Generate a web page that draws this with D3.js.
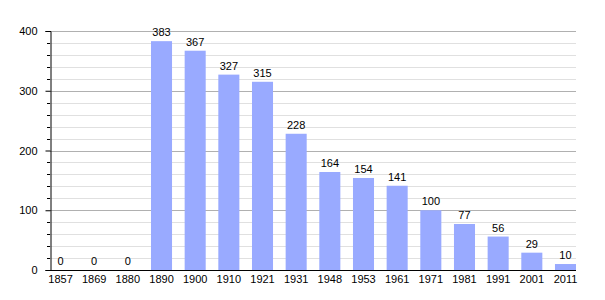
<!DOCTYPE html>
<html>
<head>
<meta charset="utf-8">
<script src="https://cdn.jsdelivr.net/npm/d3@7"></script>
<style>
  body { margin: 0; background: #fff; }
  text { font-family: "Liberation Sans", Arial, sans-serif; font-size: 11px; fill: #000; }
</style>
</head>
<body>
<svg id="chart"></svg>
<script>
const years = ["1857", "1869", "1880", "1890", "1900", "1910", "1921", "1931", "1948", "1953", "1961", "1971", "1981", "1991", "2001", "2011"];
const population = [0, 0, 0, 383, 367, 327, 315, 228, 164, 154, 141, 100, 77, 56, 29, 10];
const majorTicks = [0, 100, 200, 300, 400];
const minorTicks = d3.range(0, 401, 20).filter(v => v % 100 !== 0);

const width = 605, height = 300;
const margin = { top: 31, right: 29, bottom: 30, left: 50 };

const svg = d3.select("#chart").attr("width", width).attr("height", height);

const x = d3.scaleBand()
  .domain(years)
  .range([margin.left, width - margin.right])
  .paddingInner(0.375)
  .paddingOuter(0);

const y = d3.scaleLinear()
  .domain([0, 400])
  .range([height - margin.bottom, margin.top]);

// minor grid
svg.append("g")
  .selectAll("line")
  .data(minorTicks)
  .join("line")
  .attr("x1", margin.left - 3).attr("x2", width - margin.right)
  .attr("y1", d => Math.round(y(d)) + 0.5).attr("y2", d => Math.round(y(d)) + 0.5)
  .attr("stroke", "#e0e0e0");

// major grid
svg.append("g")
  .selectAll("line")
  .data(majorTicks.filter(d => d > 0))
  .join("line")
  .attr("x1", margin.left).attr("x2", width - margin.right)
  .attr("y1", d => Math.round(y(d)) + 0.5).attr("y2", d => Math.round(y(d)) + 0.5)
  .attr("stroke", "#b0b0b0");

// minor tick marks in black
svg.append("g")
  .selectAll("line")
  .data(minorTicks)
  .join("line")
  .attr("x1", margin.left - 3).attr("x2", margin.left)
  .attr("y1", d => Math.round(y(d)) + 0.5).attr("y2", d => Math.round(y(d)) + 0.5)
  .attr("stroke", "#000");

// bars
svg.append("g")
  .selectAll("rect")
  .data(population)
  .join("rect")
  .attr("x", (d, i) => x(years[i]))
  .attr("y", d => y(d))
  .attr("width", x.bandwidth())
  .attr("height", d => y(0) - y(d))
  .attr("fill", "#99aaff");

// value labels
svg.append("g")
  .selectAll("text")
  .data(population)
  .join("text")
  .attr("x", (d, i) => x(years[i]) + x.bandwidth() / 2)
  .attr("y", d => y(d) - 5)
  .attr("text-anchor", "middle")
  .text(d => d);

// y axis
const yAxis = svg.append("g")
  .attr("transform", `translate(${margin.left + 0.5},0)`)
  .call(d3.axisLeft(y).tickValues(majorTicks).tickSize(5).tickPadding(8));
yAxis.select(".domain").attr("stroke", "#000");
yAxis.selectAll("text").style("font-size", "11px").style("font-family", "Liberation Sans, Arial, sans-serif");

// x axis
const xAxis = svg.append("g")
  .attr("transform", `translate(0,${y(0) + 0.5})`)
  .call(d3.axisBottom(x).tickSize(0).tickPadding(5));
xAxis.select(".domain").attr("stroke", "#000").attr("d", `M${margin.left},0H${width - margin.right}`);
xAxis.selectAll("text").style("font-size", "11px").style("font-family", "Liberation Sans, Arial, sans-serif");
</script>
</body>
</html>
